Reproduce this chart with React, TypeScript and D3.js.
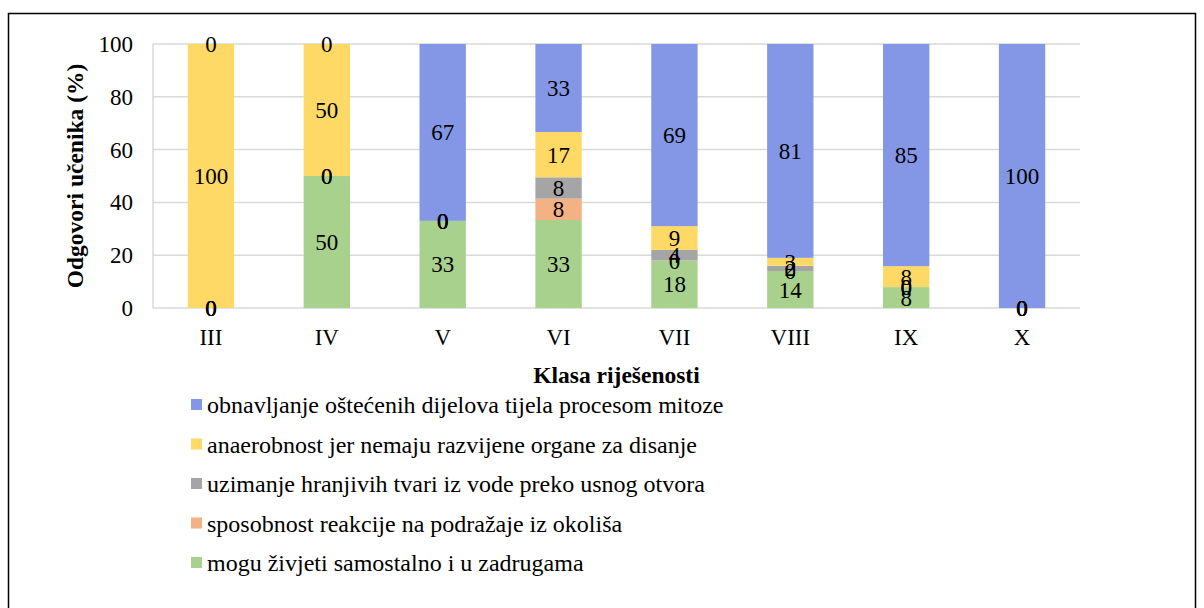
import * as d3 from 'd3'
import React from 'react'

// categories (bottom to top stacking order in series)
const categories = ['III', 'IV', 'V', 'VI', 'VII', 'VIII', 'IX', 'X']
const seriesNames = [
  'mogu živjeti samostalno i u zadrugama',
  'sposobnost reakcije na podražaje iz okoliša',
  'uzimanje hranjivih tvari iz vode preko usnog otvora',
  'anaerobnost jer nemaju razvijene organe za disanje',
  'obnavljanje oštećenih dijelova tijela procesom mitoze',
]
const seriesColors = ['#A9D18E', '#F4B183', '#A5A5A5', '#FFD966', '#8497E6']
const green = [0, 50, 33, 33, 18, 14, 8, 0]
const orange = [0, 0, 0, 8, 0, 0, 0, 0]
const gray = [0, 0, 0, 8, 4, 2, 0, 0]
const yellow = [100, 50, 0, 17, 9, 3, 8, 0]
const blue = [0, 0, 67, 33, 69, 81, 85, 100]
const yTicks = [0, 20, 40, 60, 80, 100]

const W = 1204, H = 608
const M = { left: 153, right: 1080, top: 44, bottom: 308 }
const FS = 23
const FONT = 'Liberation Serif'

export default function App() {
  const series = [green, orange, gray, yellow, blue]
  const rows = categories.map((c, i) => {
    const r: any = { cat: c }
    series.forEach((s, k) => (r['s' + k] = s[i]))
    return r
  })
  const keys = series.map((_, k) => 's' + k)
  // 100% stacked: normalise each column
  const stacked = d3.stack().keys(keys).offset(d3.stackOffsetExpand)(rows)

  const x = d3.scaleBand().domain(categories).range([M.left, M.right]).paddingInner(0.6).paddingOuter(0.3)
  const y = d3.scaleLinear().domain([0, 1]).range([M.bottom, M.top])
  const yAxis = d3.scaleLinear().domain([0, 100]).range([M.bottom, M.top])
  const legendOrder = [4, 3, 2, 1, 0]

  return (
    <svg width={W} height={H} style={{ position: 'absolute', left: 0, top: 0 }}>
      <style>{`text { font-family: 'Liberation Serif', 'Times New Roman', Tinos, serif; }`}</style>
      <rect x={8.5} y={13.5} width={1187} height={620} fill="#fff" stroke="#000" strokeWidth={1.5} />
      {yTicks.map(t => (
        <line key={t} x1={M.left} x2={M.right} y1={yAxis(t)} y2={yAxis(t)} stroke="#d9d9d9" strokeWidth={1.5} />
      ))}
      <line x1={M.left} x2={M.left} y1={M.top} y2={M.bottom} stroke="#d9d9d9" strokeWidth={1.5} />
      {stacked.map((layer, k) => (
        <g key={k} fill={seriesColors[k]}>
          {layer.map((d, i) => (
            <rect key={i} x={x(categories[i])} width={x.bandwidth()} y={y(d[1])} height={y(d[0]) - y(d[1])} />
          ))}
        </g>
      ))}
      {legendOrder.map((k, j) => (
        <rect key={'sw' + k} x={191} y={399 + j * 39.5} width={11} height={11} fill={seriesColors[k]} />
      ))}
      <g fontFamily={FONT} fontSize={FS}>
        {yTicks.map(t => (
          <text key={t} x={133} y={yAxis(t)} dy="0.35em" textAnchor="end">{t}</text>
        ))}
        {stacked.map((layer, k) => (
          <g key={'l' + k}>
            {layer.map((d, i) => (
              <text key={i} x={x(categories[i])! + x.bandwidth() / 2} y={y((d[0] + d[1]) / 2)} dy="0.35em"
                textAnchor="middle">{series[k][i]}</text>
            ))}
          </g>
        ))}
        {categories.map(c => (
          <text key={c} x={x(c)! + x.bandwidth() / 2} y={345} textAnchor="middle">{c}</text>
        ))}
        <text x={(M.left + M.right) / 2} y={383} textAnchor="middle" fontSize={23.5} fontWeight="bold">Klasa riješenosti</text>
        <text transform={`translate(83,${(M.top + M.bottom) / 2}) rotate(-90)`} textAnchor="middle" fontSize={23.5} fontWeight="bold">Odgovori učenika (%)</text>
        {legendOrder.map((k, j) => (
          <text key={'lt' + k} x={207} y={405 + j * 39.5} dy="0.35em" fontSize={24}>{seriesNames[k]}</text>
        ))}
      </g>
    </svg>
  )
}
